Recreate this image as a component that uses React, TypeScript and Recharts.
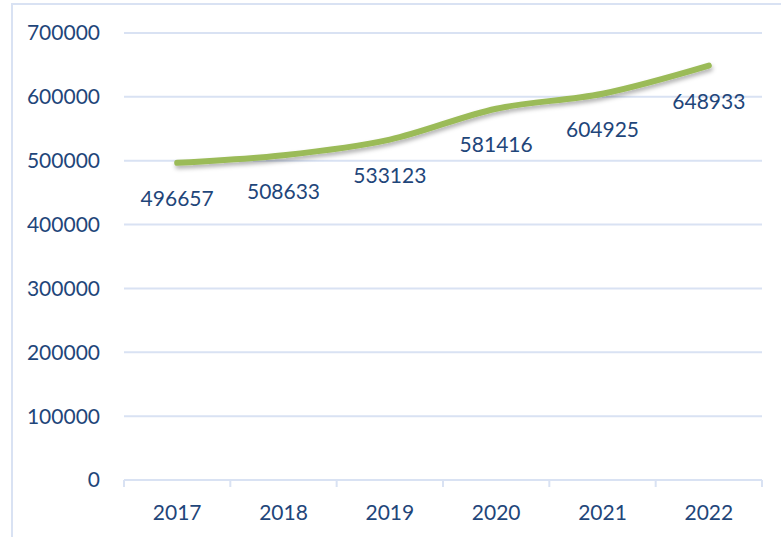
import { LineChart, Line, XAxis, YAxis, CartesianGrid, LabelList } from "recharts";

const years = ["2017", "2018", "2019", "2020", "2021", "2022"];
const values = [496657, 508633, 533123, 581416, 604925, 648933];
const yTicks = [0, 100000, 200000, 300000, 400000, 500000, 600000, 700000];

const data = years.map((year, i) => ({ x: i + 0.5, year, value: values[i] }));
// ticks at category edges (integers) and label positions (halves)
const xTicks: number[] = [];
for (let i = 0; i <= years.length * 2; i++) xTicks.push(i / 2);

const textColor = "#1f467a";
const gridColor = "#d9e2f3";
const font = "Lato, 'Open Sans', sans-serif";
const fontSize = 21;

function XTick(props: any) {
  const { x, y, payload } = props;
  const v = payload.value as number;
  if (Number.isInteger(v)) {
    return <line x1={x} x2={x} y1={y} y2={y + 7} stroke={gridColor} strokeWidth={2} />;
  }
  const label = years[Math.floor(v)];
  return (
    <text x={x} y={y + 31} textAnchor="middle" dominantBaseline="central" fill={textColor} fontSize={fontSize} fontFamily={font}>
      {label}
    </text>
  );
}

function PointLabel(props: any) {
  const { x, y, value } = props;
  return (
    <text x={x} y={y + 35} textAnchor="middle" dominantBaseline="central" fill={textColor} fontSize={fontSize} fontFamily={font}>
      {value}
    </text>
  );
}

export default function App() {
  return (
    <div style={{ position: "fixed", left: 0, top: 0, width: 781, height: 537, background: "#fff", overflow: "hidden" }}>
      <div
        style={{
          position: "absolute",
          left: 11,
          top: 3,
          width: 800,
          height: 600,
          borderLeft: `2px solid ${gridColor}`,
          borderTop: `2px solid ${gridColor}`,
        }}
      />
      <div style={{ position: "absolute", left: 0, top: 0 }}>
        <LineChart width={781} height={537} data={data} margin={{ top: 33, right: 19, left: 0, bottom: 0 }}>
          <defs>
            <filter id="shadow" x="-10%" y="-50%" width="120%" height="200%">
              <feDropShadow dx="1" dy="3" stdDeviation="2" floodColor="#000" floodOpacity="0.3" />
            </filter>
          </defs>
          <CartesianGrid vertical={false} stroke={gridColor} strokeWidth={2} />
          <XAxis
            dataKey="x"
            type="number"
            domain={[0, years.length]}
            ticks={xTicks}
            interval={0}
            height={57}
            tickSize={0}
            tickMargin={0}
            tickLine={false}
            axisLine={{ stroke: gridColor, strokeWidth: 2 }}
            tick={<XTick />}
          />
          <YAxis
            domain={[0, 700000]}
            ticks={yTicks}
            width={124}
            axisLine={false}
            tickLine={false}
            tickSize={0}
            tickMargin={24}
            tick={{ fill: textColor, fontSize, fontFamily: font }}
          />
          <Line
            type="monotone"
            dataKey="value"
            stroke="#9bbb59"
            strokeWidth={6}
            strokeLinecap="round"
            dot={false}
            filter="url(#shadow)"
            isAnimationActive={false}
          >
            <LabelList dataKey="value" content={<PointLabel />} />
          </Line>
        </LineChart>
      </div>
    </div>
  );
}
